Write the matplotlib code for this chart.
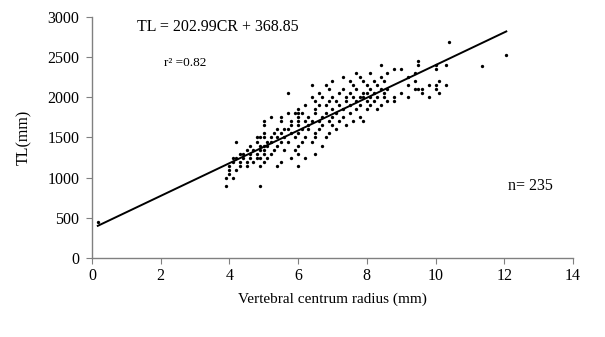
import numpy as np
import matplotlib
matplotlib.use('Agg')
import matplotlib.pyplot as plt

plt.rcParams['font.family'] = ['Liberation Serif', 'DejaVu Serif']

# Radio del centro vertebral (mm) y longitud total (mm)
cr_cols = {
    0.17: [450],
    3.9: [900, 1000],
    4.0: [1050, 1100, 1150],
    4.1: [1000, 1200, 1250],
    4.2: [1100, 1250, 1450],
    4.3: [1150, 1200, 1300],
    4.4: [1250, 1300],
    4.5: [1200, 1350, 1150],
    4.6: [1250, 1300, 1400],
    4.7: [1200, 1350],
    4.8: [1250, 1300, 1450, 1500],
    4.9: [900, 1150, 1250, 1350, 1400, 1500],
    5.0: [1200, 1300, 1350, 1400, 1500, 1550, 1650, 1700],
    5.1: [1250, 1400, 1450],
    5.2: [1300, 1450, 1500, 1750],
    5.3: [1350, 1550],
    5.4: [1150, 1400, 1500, 1600],
    5.5: [1200, 1450, 1550, 1700, 1750],
    5.6: [1350, 1500, 1600],
    5.7: [1450, 1600, 1800, 2050],
    5.8: [1250, 1550, 1650, 1700],
    5.9: [1350, 1500, 1800],
    6.0: [1150, 1300, 1400, 1550, 1650, 1700, 1750, 1800, 1850],
    6.1: [1450, 1600, 1800],
    6.2: [1250, 1500, 1700, 1900],
    6.3: [1600, 1650, 1750],
    6.4: [1450, 1700, 2000, 2150],
    6.5: [1300, 1500, 1550, 1800, 1850, 1950],
    6.6: [1600, 1700, 1900, 2050],
    6.7: [1400, 1650, 1750, 2000],
    6.8: [1500, 1800, 1900, 2150],
    6.9: [1550, 1700, 1950, 2100],
    7.0: [1650, 1750, 1850, 2000, 2200],
    7.1: [1600, 1800, 1950],
    7.2: [1700, 1900, 2050],
    7.3: [1750, 1850, 2100, 2250],
    7.4: [1650, 1950, 2000],
    7.5: [1800, 1900, 2050, 2200],
    7.6: [1700, 2000, 2150],
    7.7: [1850, 1950, 2100, 2300],
    7.8: [1750, 1900, 2000, 2250],
    7.9: [1700, 2000, 2050, 2200],
    8.0: [1850, 1950, 2050, 2150],
    8.1: [1900, 2000, 2100, 2300],
    8.2: [1950, 2050, 2200],
    8.3: [1850, 2000, 2150],
    8.4: [1900, 2100, 2250, 2400],
    8.5: [2000, 2050, 2200],
    8.6: [1950, 2100, 2300],
    8.8: [1950, 2000, 2350],
    9.0: [2050, 2350],
    9.2: [2000, 2150, 2250],
    9.4: [2100, 2200, 2300],
    9.5: [2100, 2400, 2450],
    9.6: [2050, 2100],
    9.8: [2000, 2150],
    10.0: [2100, 2150, 2350, 2400],
    10.1: [2050, 2200],
    10.3: [2150, 2400],
    10.4: [2690],
    11.36: [2390],
    12.06: [2530],
}
cr = []
tl = []
for x, ys in cr_cols.items():
    for y in ys:
        cr.append(x)
        tl.append(y)

# recta de regresion del texto
pendiente = 202.99
intercepto = 368.85
x_linea = np.array([0.17, 12.06])

fig = plt.figure(figsize=(6.05, 3.37), dpi=100)
ax = fig.add_axes([0.152, 0.2335, 0.795, 0.717])

ax.plot(cr, tl, 'o', color='black', markersize=2.4, markeredgewidth=0)
ax.plot(x_linea, pendiente * x_linea + intercepto, color='black', linewidth=1.4)

ax.set_xlim(0, 14)
ax.set_ylim(0, 3000)
ax.set_xticks(range(0, 15, 2))
ax.set_yticks(range(0, 3001, 500))

for s in ['top', 'right']:
    ax.spines[s].set_visible(False)
for s in ['left', 'bottom']:
    ax.spines[s].set_color('#808080')
    ax.spines[s].set_linewidth(1.0)
ax.tick_params(direction='out', length=4, color='#808080', labelsize=11.5)
ax.tick_params(axis='x', pad=3)
ax.tick_params(axis='y', pad=5)

ax.set_xlabel('Vertebral centrum radius (mm)', fontsize=11, labelpad=6)
ax.set_ylabel('TL(mm)', fontsize=11.5, labelpad=11)

ax.text(1.3, 2870, 'TL = 202.99CR + 368.85', fontsize=11.5, va='center')
ax.text(2.1, 2430, 'r² =0.82', fontsize=9.5, va='center')
ax.text(12.1, 900, 'n= 235', fontsize=11.5, va='center')

fig.savefig('out.png', dpi=100)
